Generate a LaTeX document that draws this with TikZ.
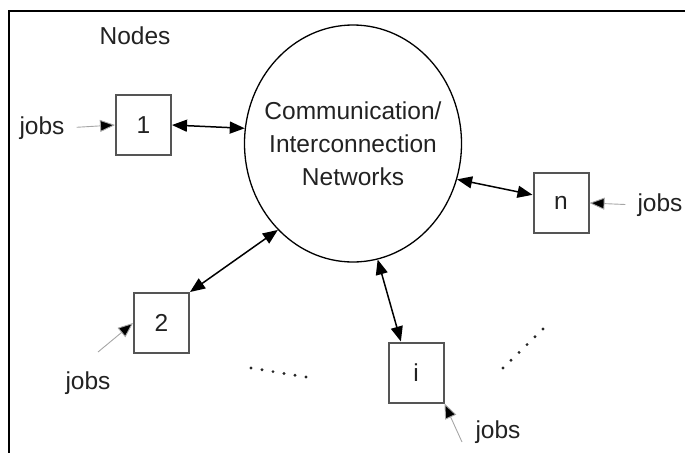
\documentclass[tikz,border=0pt]{standalone}
\usepackage{fontspec}
\setmainfont{Liberation Sans}
\usetikzlibrary{arrows.meta,shapes.geometric}
\definecolor{txt}{HTML}{222222}
\definecolor{boxc}{HTML}{555555}
\tikzset{
  every node/.style={font=\fontsize{24.5}{33}\selectfont, text=txt},
  nodebox/.style={draw=boxc, line width=2pt, minimum width=55pt, minimum height=60pt, inner sep=0pt, fill=white},
  lbl/.style={inner sep=0pt},
  tip/.style={},
  link/.style={line width=1.5pt, {Triangle[length=15pt,width=12pt]}-{Triangle[length=15pt,width=12pt]}},
  jobarrow/.style={draw=gray!70, line width=0.9pt, -{Triangle[length=15pt,width=12pt,fill=black]}},
  dotmark/.style={fill=black!85, draw=none}
}
\begin{document}
\begin{tikzpicture}[x=1pt,y=-1pt]
\useasboundingbox (0,0) rectangle (685,453);
% frame
\draw[line width=2.6pt] (685,11) -- (9,11) -- (9,453);
% network
\node[draw, ellipse, line width=1.3pt, minimum width=217pt, minimum height=237pt, inner sep=0pt] (net) at (353,143.5) {};
\node[lbl, align=center] (nettext) at (net.center) {Communication/\\Interconnection\\Networks};
% title
\node[lbl] (title) at (135,36) {Nodes};
% boxes
\node[nodebox] (b1) at (143.5,125) {1};
\node[nodebox] (b2) at (161.5,323) {2};
\node[nodebox] (bi) at (416,372.5) {i};
\node[nodebox] (bn) at (561,203) {n};
% jobs labels
\node[lbl] (j1) at (42,128) {jobs};
\node[lbl] (j2) at (88,383) {jobs};
\node[lbl] (ji) at (498,432) {jobs};
\node[lbl] (jn) at (660,205) {jobs};
\coordinate (c2) at (98,352);
\coordinate (ci) at (462,442);
% links
\draw[link] (b1.east) -- (net.172);
\draw[link] (b2.north east) -- (net.229);
\draw[link] (bi.116) -- (net.-78);
\draw[link] (bn.164) -- (net.-19);
% job arrows
\draw[jobarrow, shorten <=12pt] (j1.east) -- (b1.west);
\draw[jobarrow, shorten <=12pt] (jn.west) -- (bn.east);
\draw[jobarrow] (c2) -- (b2.west);
\draw[jobarrow] (ci) -- (bi.south east);
% dots
\foreach \k in {0,...,5} {
  \fill[dotmark] ({251+\k*11},{368+\k*1.8}) circle (1.6pt);
  \fill[dotmark] ({503+\k*8},{368-\k*7.8}) circle (1.6pt);
}
\end{tikzpicture}
\end{document}
